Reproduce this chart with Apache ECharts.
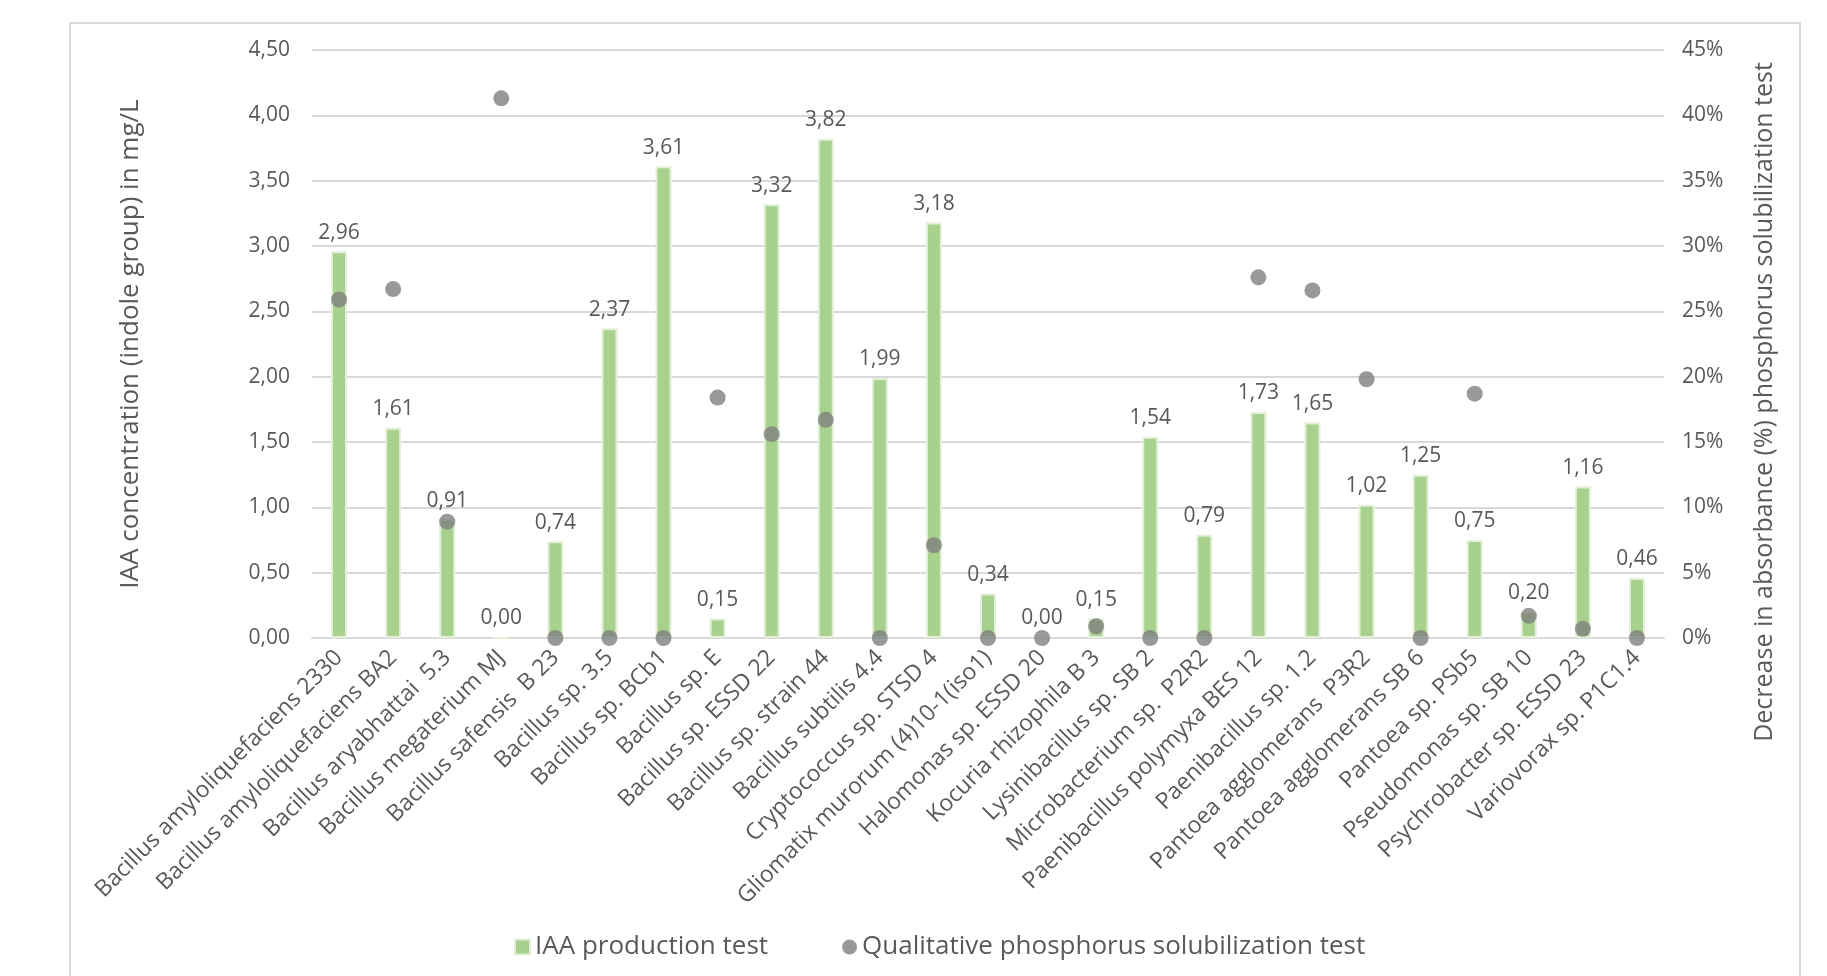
<!DOCTYPE html>
<html>
<head>
<meta charset="utf-8">
<title>IAA production and phosphorus solubilization</title>
<script src="https://cdn.jsdelivr.net/npm/echarts@6/dist/echarts.min.js"></script>
<style>
  html, body { margin: 0; padding: 0; background: #fff; }
  #chart { width: 1827px; height: 976px; }
</style>
</head>
<body>
<div id="chart"></div>
<script>
// strains (x axis)
var strains = [
  'Bacillus amyloliquefaciens 2330',
  'Bacillus amyloliquefaciens BA2',
  'Bacillus aryabhattai  5.3',
  'Bacillus megaterium MJ',
  'Bacillus safensis  B 23',
  'Bacillus sp. 3.5',
  'Bacillus sp. BCb1',
  'Bacillus sp. E',
  'Bacillus sp. ESSD 22',
  'Bacillus sp. strain 44',
  'Bacillus subtilis 4.4',
  'Cryptococcus sp. STSD 4',
  'Gliomatix murorum (4)10-1(iso1)',
  'Halomonas sp. ESSD 20',
  'Kocuria rhizophila B 3',
  'Lysinibacillus sp. SB 2',
  'Microbacterium sp.  P2R2',
  'Paenibacillus polymyxa BES 12',
  'Paenibacillus sp. 1.2',
  'Pantoea agglomerans  P3R2',
  'Pantoea agglomerans SB 6',
  'Pantoea sp. PSb5',
  'Pseudomonas sp. SB 10',
  'Psychrobacter sp. ESSD 23',
  'Variovorax sp. P1C1.4'
]
// IAA concentration, mg/L
var iaaValues = [2.96, 1.61, 0.91, 0.00, 0.74, 2.37, 3.61, 0.15, 3.32, 3.82, 1.99, 3.18, 0.34,
  0.00, 0.15, 1.54, 0.79, 1.73, 1.65, 1.02, 1.25, 0.75, 0.20, 1.16, 0.46]
// decrease in absorbance, %
var phosValues = [25.9, 26.7, 8.9, 41.3, 0, 0, 0, 18.4, 15.6, 16.7, 0, 7.1, 0,
  0, 0.9, 0, 0, 27.6, 26.6, 19.8, 0, 18.7, 1.7, 0.7, 0]

var textGrey = '#595959'
var tickFont = '"Open Sans", "DejaVu Sans", sans-serif'

function comma(v, digits) {
  return v.toFixed(digits).replace('.', ',')
}

var chart = echarts.init(document.getElementById('chart'))
chart.setOption({
  backgroundColor: '#fff',
  animation: false,
  graphic: [{
    type: 'rect',
    shape: { x: 70, y: 23, width: 1730, height: 980 },
    style: { fill: 'none', stroke: '#d9d9d9', lineWidth: 2 },
    silent: true
  }],
  grid: { left: 312, right: 163, top: 50, bottom: 338 },
  legend: {
    left: 514,
    top: 934,
    padding: 0,
    itemGap: 74,
    itemWidth: 15,
    itemHeight: 15,
    textStyle: { color: textGrey, fontSize: 26, fontFamily: tickFont },
    data: [
      { name: 'IAA production test', icon: 'rect' },
      { name: 'Qualitative phosphorus solubilization test', icon: 'circle' }
    ]
  },
  xAxis: {
    type: 'category',
    data: strains,
    axisLine: { show: true, lineStyle: { color: '#d9d9d9', width: 2 } },
    axisTick: { show: false },
    axisLabel: {
      interval: 0,
      rotate: 45,
      margin: 16,
      color: textGrey,
      fontSize: 23,
      fontFamily: tickFont
    }
  },
  yAxis: [
    {
      type: 'value',
      min: 0,
      max: 4.5,
      interval: 0.5,
      name: 'IAA concentration (indole group) in mg/L',
      nameLocation: 'middle',
      nameGap: 168,
      nameTextStyle: { color: textGrey, fontSize: 26, fontFamily: tickFont },
      axisLine: { show: false },
      axisTick: { show: false },
      axisLabel: {
        margin: 22,
        color: textGrey,
        fontSize: 21,
        fontFamily: tickFont,
        formatter: function(v) { return comma(v, 2) }
      },
      splitLine: { lineStyle: { color: '#d9d9d9', width: 2 } }
    },
    {
      type: 'value',
      min: 0,
      max: 45,
      interval: 5,
      position: 'right',
      name: 'Decrease in absorbance (%) phosphorus solubilization test',
      nameLocation: 'middle',
      nameGap: 88,
      nameRotate: 90,
      nameTextStyle: {
        color: textGrey, fontSize: 25, fontFamily: tickFont,
        padding: [0, 116, 0, 0]
      },
      axisLine: { show: false },
      axisTick: { show: false },
      axisLabel: {
        margin: 18,
        color: textGrey,
        fontSize: 21,
        fontFamily: tickFont,
        formatter: '{value}%'
      },
      splitLine: { show: false }
    }
  ],
  series: [
    {
      name: 'IAA production test',
      type: 'bar',
      data: iaaValues,
      barWidth: 16,
      itemStyle: { color: '#a9d18e', borderColor: '#e2f0d9', borderWidth: 2 },
      label: {
        show: true,
        position: 'top',
        distance: 8,
        color: textGrey,
        fontSize: 21,
        fontFamily: tickFont,
        formatter: function(p) { return comma(p.value, 2) }
      }
    },
    {
      name: 'Qualitative phosphorus solubilization test',
      type: 'scatter',
      yAxisIndex: 1,
      data: phosValues,
      symbolSize: 16,
      itemStyle: { color: '#7f7f7f' },
      z: 3
    }
  ]
})
</script>
</body>
</html>
